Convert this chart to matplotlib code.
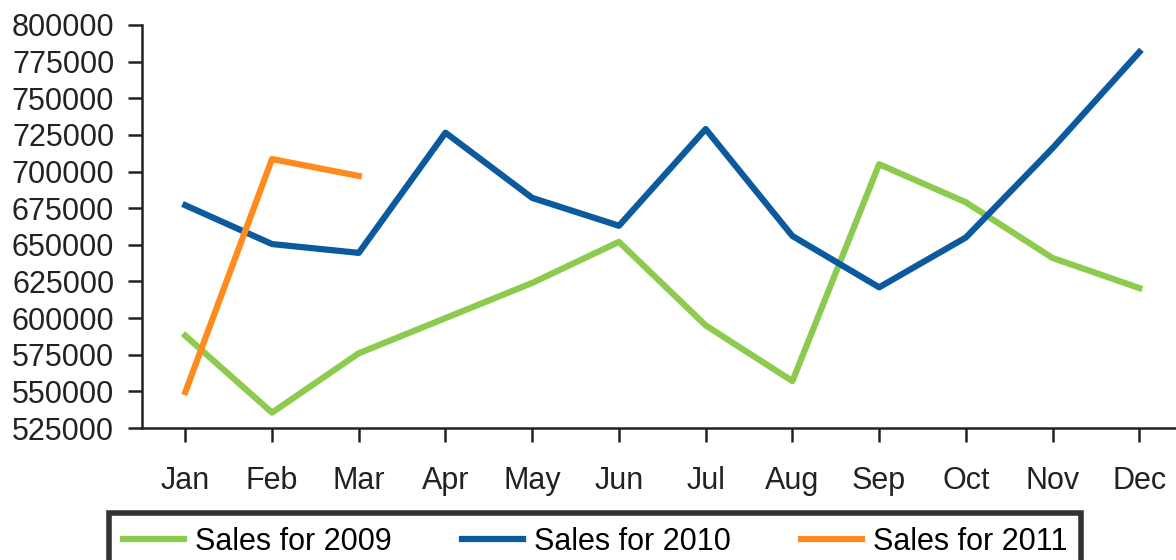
import matplotlib.pyplot as plt

plt.rcParams['font.family'] = ['Liberation Sans', 'DejaVu Sans']

months = ['Jan', 'Feb', 'Mar', 'Apr', 'May', 'Jun',
          'Jul', 'Aug', 'Sep', 'Oct', 'Nov', 'Dec']
sales_2009 = [588000, 535500, 576000, 600000, 624000, 652000,
              595000, 557000, 705000, 679000, 641000, 620500]
sales_2010 = [677000, 650500, 644500, 726500, 682000, 663000,
              729000, 656000, 621000, 655000, 716000, 781500]
sales_2011 = [549500, 708500, 697000]
yticks = list(range(525000, 800001, 25000))

fig = plt.figure(figsize=(11.76, 5.6), dpi=100)
ax = fig.add_axes([0.1207, 0.2357, 0.885, 0.7197])

x = list(range(len(months)))
ax.plot(x, sales_2009, color='#8DCB4F', lw=4.5, label='Sales for 2009')
ax.plot(x, sales_2010, color='#0B5A9E', lw=4.5, label='Sales for 2010')
ax.plot(x[:len(sales_2011)], sales_2011, color='#FF8A1D', lw=4.5, label='Sales for 2011')

ax.set_xlim(-0.5, 11.5)
ax.set_ylim(525000, 800000)
ax.set_yticks(yticks)
ax.set_yticklabels([str(v) for v in yticks])
ax.set_xticks(x)
ax.set_xticklabels(months)

for s in ['top', 'right']:
    ax.spines[s].set_visible(False)
for s in ['left', 'bottom']:
    ax.spines[s].set_linewidth(1.8)
    ax.spines[s].set_color('#222222')

ax.tick_params(axis='y', length=10, width=1.8, pad=10, labelsize=22, colors='#222222')
ax.tick_params(axis='x', length=10, width=1.8, pad=17, labelsize=22, colors='#222222')

leg = fig.legend(loc='upper center', bbox_to_anchor=(0.506, 0.084), ncol=3,
                 fontsize=22, frameon=True, fancybox=False, handlelength=2.0,
                 handletextpad=0.35, columnspacing=2.3, borderpad=0.45,
                 borderaxespad=0)
leg.get_frame().set_edgecolor('black')
leg.get_frame().set_linewidth(4)

fig.savefig('out.png', dpi=100)
